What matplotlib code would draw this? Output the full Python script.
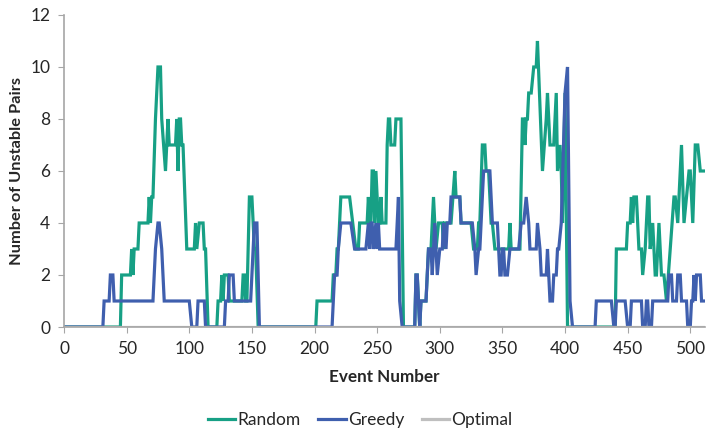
import matplotlib
matplotlib.use("Agg")
import matplotlib.pyplot as plt

# vertices (event number, unstable pairs)
random_event = [0, 45, 46, 53, 54, 55, 56, 59, 60, 67, 68, 69, 70, 71, 73, 75, 77, 78, 81, 83, 84, 89,
                90, 91, 92, 93, 94, 95, 98, 104, 105, 106, 108, 111, 112, 113, 115, 122, 123, 125, 126,
                127, 128, 131, 132, 142, 143, 144, 145, 146, 148, 150, 152, 153, 155, 201, 202, 214, 215,
                217, 218, 219, 221, 228, 233, 235, 236, 242, 243, 244, 245, 246, 247, 248, 249, 250, 251,
                252, 253, 254, 257, 258, 259, 260, 261, 264, 265, 269, 271, 280, 281, 282, 284, 285, 289,
                291, 293, 295, 296, 297, 299, 302, 303, 304, 309, 312, 313, 316, 317, 325, 327, 330, 331,
                332, 334, 336, 337, 339, 341, 342, 344, 355, 356, 357, 364, 366, 367, 368, 369, 370, 371,
                373, 375, 377, 378, 382, 385, 386, 388, 391, 393, 394, 396, 397, 398, 400, 402, 440, 441,
                449, 450, 452, 453, 454, 455, 457, 459, 461, 462, 464, 466, 467, 468, 470, 472, 473, 475,
                477, 479, 481, 487, 488, 490, 491, 493, 495, 497, 499, 500, 502, 504, 506, 508, 511]
random_pairs = [0, 0, 2, 2, 3, 2, 3, 3, 4, 4, 5, 4, 5, 5, 8, 10, 10, 8, 6, 8, 7, 7,
                8, 6, 8, 8, 7, 7, 3, 3, 4, 3, 4, 4, 3, 3, 0, 0, 1, 1, 2,
                1, 2, 2, 1, 1, 2, 2, 1, 1, 5, 5, 3, 3, 0, 0, 1, 1, 2,
                2, 3, 3, 5, 5, 3, 3, 4, 4, 5, 4, 4, 6, 6, 4, 6, 5, 4,
                4, 5, 4, 4, 7, 8, 8, 7, 7, 8, 8, 0, 0, 2, 2, 0, 1, 1,
                3, 3, 5, 4, 3, 4, 4, 3, 4, 4, 6, 5, 5, 4, 4, 3, 3, 4,
                4, 7, 7, 6, 6, 4, 4, 3, 3, 4, 3, 3, 8, 8, 7, 8, 8, 9,
                9, 10, 10, 11, 6, 8, 9, 7, 7, 9, 6, 7, 6, 4, 9, 0, 0, 3,
                3, 4, 4, 5, 4, 5, 5, 3, 3, 2, 3, 5, 5, 3, 4, 2, 2, 4,
                2, 2, 1, 5, 5, 4, 5, 7, 4, 5, 6, 6, 4, 7, 7, 6, 6]

greedy_event = [0, 31, 32, 36, 37, 39, 40, 71, 73, 75, 76, 78, 80, 100, 102, 106, 107, 112, 113, 128,
                129, 131, 132, 135, 136, 149, 150, 152, 154, 156, 214, 215, 216, 218, 219, 221, 229, 232,
                241, 243, 244, 245, 246, 247, 249, 250, 251, 252, 265, 267, 268, 270, 280, 281, 282, 284,
                285, 289, 291, 293, 294, 295, 296, 298, 300, 302, 303, 305, 306, 308, 309, 316, 317, 326,
                328, 329, 331, 332, 335, 340, 342, 346, 347, 348, 349, 350, 351, 352, 354, 356, 363, 365,
                367, 369, 371, 372, 377, 378, 380, 381, 385, 386, 388, 390, 391, 393, 394, 395, 397, 400,
                402, 404, 406, 424, 425, 437, 439, 440, 441, 448, 450, 452, 453, 461, 462, 464, 465, 466,
                467, 469, 470, 482, 483, 485, 486, 489, 490, 492, 493, 497, 498, 500, 501, 502, 503, 504,
                505, 508, 509, 511]
greedy_pairs = [0, 0, 1, 1, 2, 2, 1, 1, 3, 4, 4, 3, 1, 1, 0, 0, 1, 1, 0, 0,
                1, 1, 2, 2, 1, 1, 2, 4, 4, 0, 0, 1, 2, 2, 3, 4, 4, 3,
                3, 4, 3, 4, 4, 3, 4, 3, 4, 3, 3, 5, 1, 0, 0, 2, 2, 0,
                1, 1, 3, 3, 2, 3, 4, 2, 3, 3, 4, 3, 4, 4, 5, 5, 4, 4,
                3, 2, 3, 3, 6, 6, 4, 4, 3, 2, 2, 3, 3, 2, 2, 3, 3, 4,
                4, 5, 4, 3, 3, 4, 3, 2, 2, 3, 1, 1, 2, 2, 3, 3, 4, 9,
                10, 1, 0, 0, 1, 1, 0, 0, 1, 1, 0, 0, 1, 1, 0, 0, 1, 1,
                0, 0, 1, 1, 2, 2, 1, 1, 2, 2, 1, 1, 0, 0, 1, 1, 2, 1,
                2, 2, 1, 1]

optimal_event = [0, 511]
optimal_pairs = [0, 0]

x_ticks = list(range(0, 501, 50))
y_ticks = list(range(0, 13, 2))

plt.rcParams['font.family'] = ['Lato', 'DejaVu Sans']

fig = plt.figure(figsize=(7.06, 4.33), dpi=100)
ax = fig.add_axes([0.0907, 0.2448, 0.9083, 0.7206])

lw = 2.3
ax.plot(random_event, random_pairs, color='#17a085', lw=lw, label='Random', solid_joinstyle='miter')
ax.plot(greedy_event, greedy_pairs, color='#3f5fae', lw=lw, label='Greedy', solid_joinstyle='miter')
ax.plot(optimal_event, optimal_pairs, color='#bfbfbf', lw=lw, label='Optimal')

ax.set_xlim(0, 512)
ax.set_ylim(0, 12)
ax.set_xticks(x_ticks)
ax.set_yticks(y_ticks)
ax.tick_params(axis='both', direction='out', length=4, width=0.8, color='#a6a6a6',
               labelsize=12.5, labelcolor='#262626', pad=6)

for side in ['top', 'right']:
    ax.spines[side].set_visible(False)
for side in ['left', 'bottom']:
    ax.spines[side].set_color('#a6a6a6')
    ax.spines[side].set_linewidth(1.2)

ax.set_xlabel('Event Number', fontsize=12.3, fontweight='bold', color='#262626')
ax.set_ylabel('Number of Unstable Pairs', fontsize=11.8, fontweight='bold', color='#262626')
ax.xaxis.set_label_coords(0.5, -0.135)
ax.yaxis.set_label_coords(-0.062, 0.5)

fig.legend(loc='center', bbox_to_anchor=(0.51, 0.03), ncol=3, frameon=False,
           fontsize=12.5, handlelength=1.6, handletextpad=0.12, columnspacing=1.0,
           labelcolor='#262626')

fig.savefig('out.png', dpi=100)
